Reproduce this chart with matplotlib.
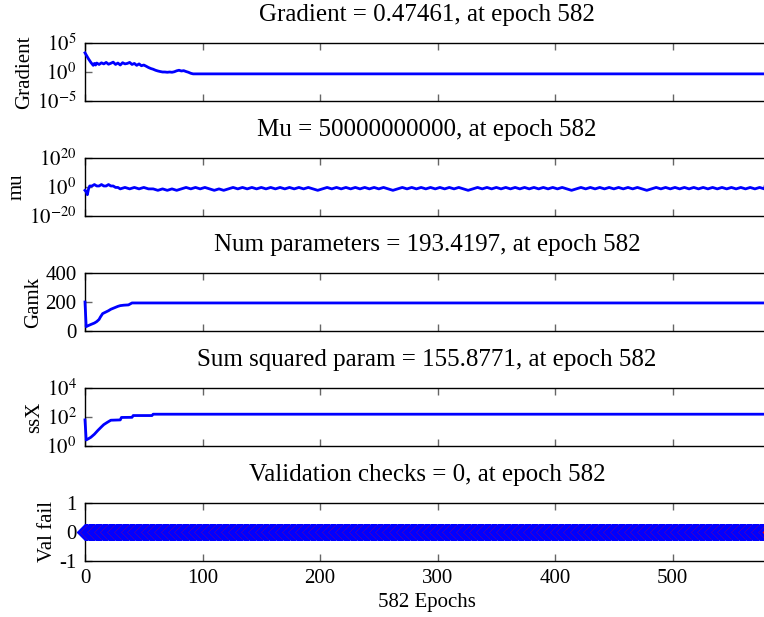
import numpy as np
import matplotlib
matplotlib.use("Agg")
import matplotlib.pyplot as plt
from matplotlib.ticker import FixedLocator, FuncFormatter

plt.rcParams["font.family"] = "Liberation Serif"
plt.rcParams["mathtext.fontset"] = "stix"
plt.rcParams["font.size"] = 15
plt.rcParams["axes.unicode_minus"] = False

# ---- data ----
n_epochs = 582

grad_epochs = [0, 1, 2, 3, 4, 5, 6, 7, 8, 9, 10, 12, 14, 16, 18, 20, 22, 24, 26, 28,
               30, 32, 34, 36, 38, 40, 42, 44, 46, 48, 50, 52, 54, 56, 58, 60, 62, 64,
               66, 68, 70, 72, 74, 76, 78, 80, 82, 84, 86, 88, 90, 92, 582]
grad_vals = [2000, 900, 400, 180, 90, 45, 25, 14, 30, 16, 35, 20, 38, 25, 45, 22, 32, 50,
             20, 35, 16, 40, 25, 30, 45, 20, 30, 14, 25, 12, 16, 10, 6, 4, 3, 2.0, 1.5,
             1.2, 1.0, 1.0, 0.9, 1.0, 0.9, 1.1, 1.6, 2.0, 1.5, 1.7, 1.2, 0.9, 0.6,
             0.47461, 0.47461]

mu_epochs_early = [0, 1, 2, 3, 4, 6, 8, 10, 12, 14, 16, 18, 20, 22, 24, 26, 28]
mu_exp_early = [-3, -4, -6, -2, 0, 0, 1, 0, 0, 1, 0, 0, 1, 0, 0, -1, -1]
# mu = 5*10^k, sampled every 4 epochs from epoch 30
mu_exp_steady = [-2, -1, -2, -1, -2, -1, -2, -2, -3, -2,
                 -3, -2, -3, -2, -1, -2, -1, -2, -1, -2,
                 -3, -2, -3, -2, -1, -2, -1, -2, -1, -2,
                 -1, -2, -1, -2, -1, -2, -1, -2, -1, -2,
                 -1, -2, -3, -2, -1, -2, -1, -2, -1, -2,
                 -1, -2, -1, -2, -1, -2, -1, -2, -3, -2,
                 -1, -2, -1, -2, -1, -2, -1, -2, -1, -2,
                 -1, -2, -1, -2, -3, -2, -1, -2, -1, -2,
                 -1, -2, -1, -2, -1, -2, -1, -2, -1, -2,
                 -1, -2, -1, -2, -1, -2, -3, -2, -1, -2,
                 -1, -2, -1, -2, -1, -2, -1, -2, -1, -2,
                 -1, -2, -3, -2, -1, -2, -1, -2, -1, -2,
                 -1, -2, -1, -2, -1, -2, -1, -2, -1, -2,
                 -1, -2, -1, -2, -1, -2, -1, -2]
mu_final = 5e10

gamk_epochs = [0, 1, 3, 5, 8, 10, 12, 13, 15, 17, 20, 22, 25, 28, 30, 33, 37, 40, 582]
gamk_vals = [200, 30, 38, 45, 55, 65, 80, 95, 120, 128, 140, 150, 160, 170, 175, 178,
             180, 193.4197, 193.4197]

ssx_epochs = [0, 1, 3, 5, 8, 11, 14, 16, 19, 22, 30, 31, 40, 41, 57, 58, 582]
ssx_vals = [63, 2.6, 3.2, 4.0, 6.5, 12, 21, 30, 43, 60, 63, 93, 95, 126, 126,
            155.8771, 155.8771]

val_fail = [0] * (n_epochs + 1)

titles = ["Gradient = 0.47461, at epoch 582",
          "Mu = 50000000000, at epoch 582",
          "Num parameters = 193.4197, at epoch 582",
          "Sum squared param = 155.8771, at epoch 582",
          "Validation checks = 0, at epoch 582"]
ylabels = ["Gradient", "mu", "Gamk", "ssX", "Val fail"]

# ---- build the mu series ----
mu_epochs = list(mu_epochs_early)
mu_vals = [5 * 10.0 ** k for k in mu_exp_early]
for i, k in enumerate(mu_exp_steady):
    mu_epochs.append(30 + 4 * i)
    mu_vals.append(5 * 10.0 ** k)
mu_epochs.append(n_epochs)
mu_vals.append(mu_final)

fig = plt.figure(figsize=(7.64, 6.17), dpi=100)

W, H = 764.0, 617.0
left = 85 / W
width = 684 / W
tops = [43, 158, 273, 388, 503]
height = 58 / H
axs = [fig.add_axes([left, 1 - (t + 58) / H, width, height]) for t in tops]


def pow10(v, pos):
    return r"$10^{%d}$" % int(round(np.log10(v)))


ax = axs[0]
ax.plot(grad_epochs, grad_vals, color="blue", lw=2, zorder=3, clip_on=False)
ax.set_yscale("log")
ax.set_ylim(1e-5, 1e5)
ax.yaxis.set_major_locator(FixedLocator([1e-5, 1, 1e5]))
ax.yaxis.set_major_formatter(FuncFormatter(pow10))
ax.yaxis.set_minor_locator(FixedLocator([]))

ax = axs[1]
ax.plot(mu_epochs, mu_vals, color="blue", lw=2, zorder=3, clip_on=False)
ax.set_yscale("log")
ax.set_ylim(1e-20, 1e20)
ax.yaxis.set_major_locator(FixedLocator([1e-20, 1, 1e20]))
ax.yaxis.set_major_formatter(FuncFormatter(pow10))
ax.yaxis.set_minor_locator(FixedLocator([]))

ax = axs[2]
ax.plot(gamk_epochs, gamk_vals, color="blue", lw=2, zorder=3, clip_on=False)
ax.set_ylim(0, 400)
ax.set_yticks([0, 200, 400])

ax = axs[3]
ax.plot(ssx_epochs, ssx_vals, color="blue", lw=2, zorder=3, clip_on=False)
ax.set_yscale("log")
ax.set_ylim(1, 1e4)
ax.yaxis.set_major_locator(FixedLocator([1, 1e2, 1e4]))
ax.yaxis.set_major_formatter(FuncFormatter(pow10))
ax.yaxis.set_minor_locator(FixedLocator([]))

ax = axs[4]
ax.plot(range(n_epochs + 1), val_fail, color="blue", lw=2, marker="D", ms=8,
        mfc="red", mec="blue", mew=1.0, zorder=3, clip_on=False)
ax.set_ylim(-1, 1)
ax.set_yticks([-1, 0, 1])
ax.set_xlabel("582 Epochs", labelpad=3)

for i, ax in enumerate(axs):
    ax.set_xlim(0, n_epochs)
    ax.set_xticks([0, 100, 200, 300, 400, 500])
    ax.tick_params(direction="in", top=True, right=False, length=5, width=1,
                   color="#666666", pad=6)
    if i < 4:
        ax.set_xticklabels([])
    ax.set_title(titles[i], pad=16)
    ax.set_ylabel(ylabels[i], labelpad=2)
    ax.spines.right.set_visible(False)
    for s in ["top", "bottom", "left"]:
        ax.spines[s].set_linewidth(1)

fig.savefig("out.png", dpi=100)
